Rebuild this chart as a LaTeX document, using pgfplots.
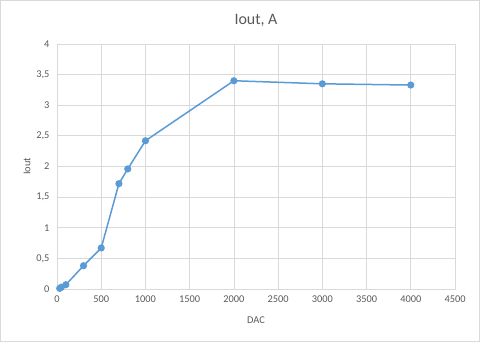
\documentclass[border=0pt]{standalone}
\usepackage{pgfplots}
\pgfplotsset{compat=1.18}
\usepackage{fontspec}
\setmainfont{Carlito}
\definecolor{excelblue}{HTML}{5B9BD5}
\definecolor{gridgray}{HTML}{D9D9D9}
\definecolor{textgray}{HTML}{595959}
\definecolor{framegray}{HTML}{D9D9D9}
\begin{document}
\begin{tikzpicture}
\useasboundingbox (0,0) rectangle (480bp,342bp);
\draw[framegray, line width=0.75bp] (0.5bp,0.5bp) rectangle (479.5bp,341.5bp);
\begin{axis}[
  at={(57bp,53bp)}, anchor=south west,
  scale only axis,
  width=398bp, height=245bp,
  xmin=0, xmax=4500, ymin=0, ymax=4,
  xtick distance=500, ytick distance=0.5,
  grid=major,
  grid style={gridgray, line width=0.75bp},
  axis line style={gridgray, line width=0.75bp},
  major tick length=0pt,
  tick label style={font=\fontsize{10.4}{12}\selectfont, text=textgray},
  yticklabel style={xshift=-4bp},
  xticklabel style={yshift=-3bp},
  /pgf/number format/assume math mode=true,
  /pgf/number format/.cd, use comma, 1000 sep={},
  /pgfplots/.cd,
  title={Iout, A},
  title style={at={(axis description cs:0.5,1)}, anchor=center, yshift=18bp, font=\fontsize{16}{19}\selectfont, text=textgray},
  xlabel={DAC},
  xlabel style={at={(axis description cs:0.5,0)}, anchor=center, yshift=-31bp, font=\fontsize{10.4}{12}\selectfont, text=textgray},
  ylabel={Iout},
  ylabel style={at={(axis description cs:0,0.5)}, anchor=center, yshift=30bp, font=\fontsize{10.4}{12}\selectfont, text=textgray},
  clip=false,
]
\addplot[excelblue, line width=1.5bp, mark=*, mark size=2.8bp, mark options={fill=excelblue, draw=excelblue}] coordinates {
  (30,0.01) (50,0.03) (100,0.07) (300,0.38) (500,0.67) (700,1.72) (800,1.96) (1000,2.42) (2000,3.40) (3000,3.35) (4000,3.33)
};
\end{axis}
\end{tikzpicture}
\end{document}
